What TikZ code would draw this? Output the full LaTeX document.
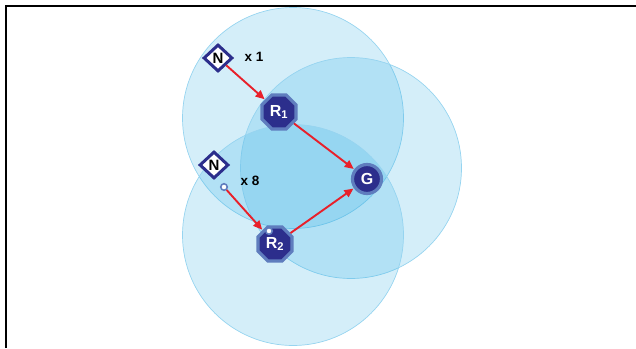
\documentclass[tikz,border=0pt]{standalone}
\usepackage{fontspec}
\setmainfont{Liberation Sans}
\usetikzlibrary{shapes.geometric,arrows.meta}
\definecolor{rangefill}{RGB}{41,171,226}
\definecolor{rangeedge}{RGB}{150,212,240}
\definecolor{navy}{RGB}{44,46,140}
\definecolor{ringblue}{RGB}{95,125,190}
\definecolor{arrowred}{RGB}{232,32,42}
\tikzset{
  radiorange/.style={circle, draw=rangeedge, line width=0.7pt, fill=rangefill, fill opacity=0.2, minimum size=221pt, inner sep=0pt},
  router/.style={regular polygon, regular polygon sides=8, minimum size=37pt, inner sep=0pt, fill=navy, draw=ringblue, line width=3.2pt, text=white, font=\bfseries\fontsize{16}{16}\selectfont},
  gateway/.style={circle, minimum size=29pt, inner sep=0pt, fill=navy, draw=ringblue, line width=3.2pt, text=white, font=\bfseries\fontsize{16}{16}\selectfont},
  nodebox/.style={diamond, minimum width=29pt, minimum height=27pt, inner sep=0pt, fill=white, draw=navy, line width=3pt, font=\bfseries\fontsize{15}{15}\selectfont},
  port/.style={circle, minimum size=6.5pt, inner sep=0pt, fill=white, draw=ringblue, line width=1.6pt},
  lbl/.style={font=\bfseries\fontsize{13.5}{13.5}\selectfont},
  link/.style={draw=arrowred, line width=1.9pt, -{Triangle[length=9pt,width=8pt]}}
}
\begin{document}
\begin{tikzpicture}[x=1pt,y=-1pt]
\useasboundingbox (0,0) rectangle (636,348);
\draw[line width=1.8pt] (6,348) -- (6,6) -- (640,6);
\node[radiorange] (c1) at (293,118) {};
\node[radiorange] (c2) at (351,168) {};
\node[radiorange] (c3) at (293,235) {};
\node[nodebox] (n1) at (218,58) {N};
\node[lbl, anchor=west] (x1) at (241,57) {x 1};
\node[nodebox] (n2) at (214,165) {N};
\node[port] (p1) at (224,187) {};
\node[lbl, anchor=west] (x8) at (237,181) {x 8};
\node[router] (r1) at (279,112) {R\textsubscript{1}};
\node[router] (r2) at (275,244) {R\textsubscript{2}};
\node[port] (p2) at (269,231) {};
\node[gateway] (g) at (367,179) {G};
\draw[link, shorten >=0.5pt] (n1) -- (r1);
\draw[link, shorten >=0.5pt] (r1) -- (g);
\draw[link, shorten >=0.5pt] (p1) -- (r2);
\draw[link, shorten >=0.5pt] (r2) -- (g);
\end{tikzpicture}
\end{document}
